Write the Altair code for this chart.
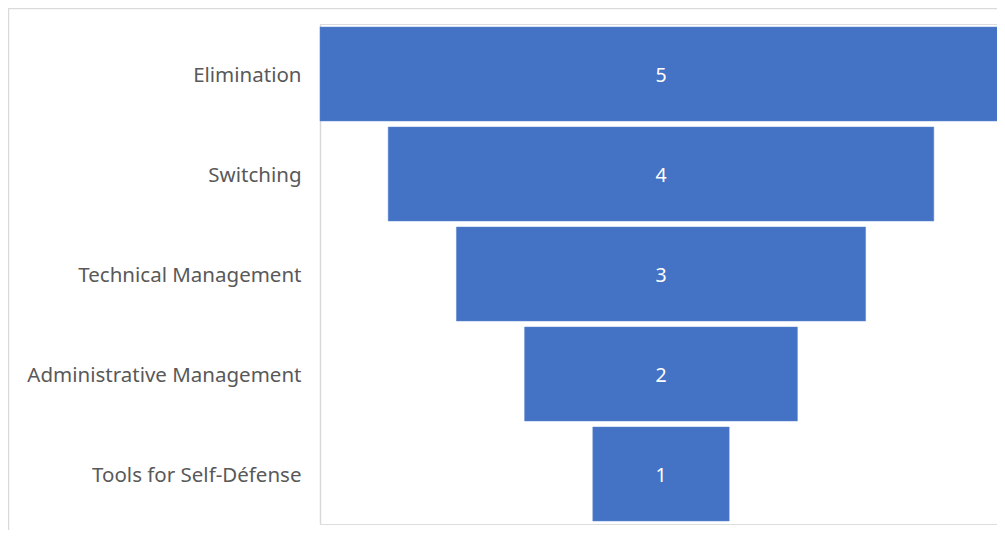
import altair as alt
import pandas as pd

stages = ["Elimination", "Switching", "Technical Management", "Administrative Management", "Tools for Self-Défense"]
values = [5, 4, 3, 2, 1]

df = pd.DataFrame({"stage": stages, "value": values})
df["left"] = -df["value"] / 2
df["right"] = df["value"] / 2
df["mid"] = 0

W, H = 677, 500
unit = 136.4
x_max = (W - 341) / unit

y_enc = alt.Y("stage:N", sort=stages,
              scale=alt.Scale(paddingInner=0.06, paddingOuter=0.03),
              axis=alt.Axis(title=None, ticks=False, labelPadding=19, labelFontSize=20.5,
                            labelColor="#595959", labelFont="Noto Sans", domainColor="#d9d9d9",
                            domainWidth=1.5, labelLimit=400, labelOffset=2))
x_scale = alt.Scale(domain=[-2.5, x_max], nice=False, zero=False)

bars = alt.Chart(df).mark_bar(color="#4472C4", stroke="#5b86cf", strokeWidth=0.5).encode(
    y=y_enc,
    x=alt.X("left:Q", scale=x_scale, axis=None),
    x2="right:Q",
)

labels = alt.Chart(df).mark_text(color="white", fontSize=19.5, font="Noto Sans", dy=2).encode(
    y=alt.Y("stage:N", sort=stages),
    x=alt.X("mid:Q", scale=x_scale, axis=None),
    text="value:Q",
)

frame = alt.Chart(df.head(1)).mark_rect(fill="white", fillOpacity=0, stroke="#dadada", strokeWidth=1.5).encode(
    x=alt.value(-311.5), x2=alt.value(720), y=alt.value(-15.5), y2=alt.value(560))

chart = alt.layer(frame, bars, labels).properties(
    width=W, height=H,
    autosize=alt.AutoSizeParams(type="none"),
    padding={"left": 312, "top": 16, "right": 0, "bottom": 6},
).configure_view(strokeWidth=0, stroke="transparent").configure_axisX(
    domain=False, ticks=False, labels=False, grid=False
).configure(background="white")

chart.save("out.html", embed_options={"renderer": "svg", "actions": False})
